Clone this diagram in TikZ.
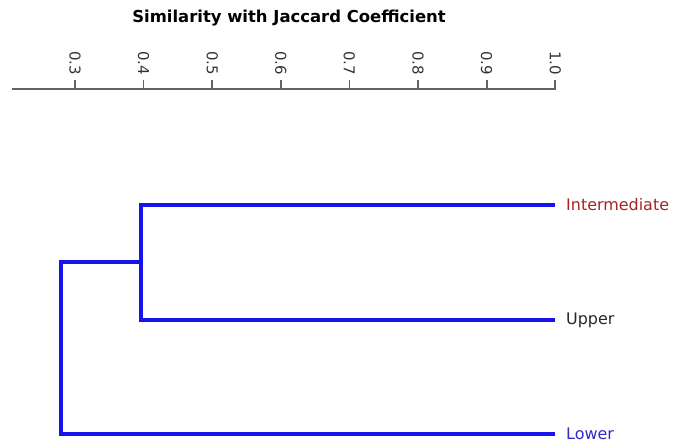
\documentclass[tikz,border=0pt]{standalone}
\usepackage{fontspec}
\setmainfont{DejaVu Sans}
\definecolor{dendblue}{RGB}{20,20,235}
\definecolor{axisgray}{RGB}{100,100,100}
\definecolor{interred}{RGB}{165,35,35}
\definecolor{lowerblue}{RGB}{45,45,195}
\begin{document}
\begin{tikzpicture}[x=1bp,y=-1bp,
  axisline/.style={draw=axisgray,line width=2bp},
  tickline/.style={draw=axisgray,line width=1.8bp},
  ticklabel/.style={rotate=-90,anchor=east,inner sep=0pt,text=black!80,font=\fontsize{15}{17}\selectfont},
  dend/.style={draw=dendblue,line width=3.2bp,line join=miter},
  leaflabel/.style={anchor=west,inner sep=0pt,font=\fontsize{16}{18}\selectfont}]
\useasboundingbox (0,0) rectangle (674,445);
\node[font=\bfseries\fontsize{16.5}{18}\selectfont] (title) at (289,18) {Similarity with Jaccard Coefficient};
\coordinate (axl) at (12,89);
\coordinate (axr) at (556,89);
\draw[axisline] (axl) -- (axr);
\foreach \v [count=\i] in {0.3,0.4,0.5,0.6,0.7,0.8,0.9,1.0} {
  \pgfmathsetmacro{\xx}{75+(\v-0.3)*686}
  \coordinate (tb\i) at (\xx,89);
  \coordinate (tt\i) at (\xx,80);
  \draw[tickline] (tb\i) -- (tt\i);
  \node[ticklabel] (tl\i) at (\xx,75) {\v};
}
% leaves
\coordinate (I) at (555,205);
\coordinate (U) at (555,320);
\coordinate (L) at (555,434);
\coordinate (n1top) at (141,205);
\coordinate (n1bot) at (141,320);
\coordinate (n1) at (141,262);
\coordinate (n2top) at (61,262);
\coordinate (n2bot) at (61,434);
\draw[dend] (I) -- (n1top) -- (n1bot) -- (U);
\draw[dend] (n1) -- (n2top) -- (n2bot) -- (L);
\node[leaflabel,text=interred] (lI) at (566,205) {Intermediate};
\node[leaflabel,text=black!85] (lU) at (566,320) {Upper};
\node[leaflabel,text=lowerblue] (lL) at (566,434) {Lower};
\end{tikzpicture}
\end{document}
